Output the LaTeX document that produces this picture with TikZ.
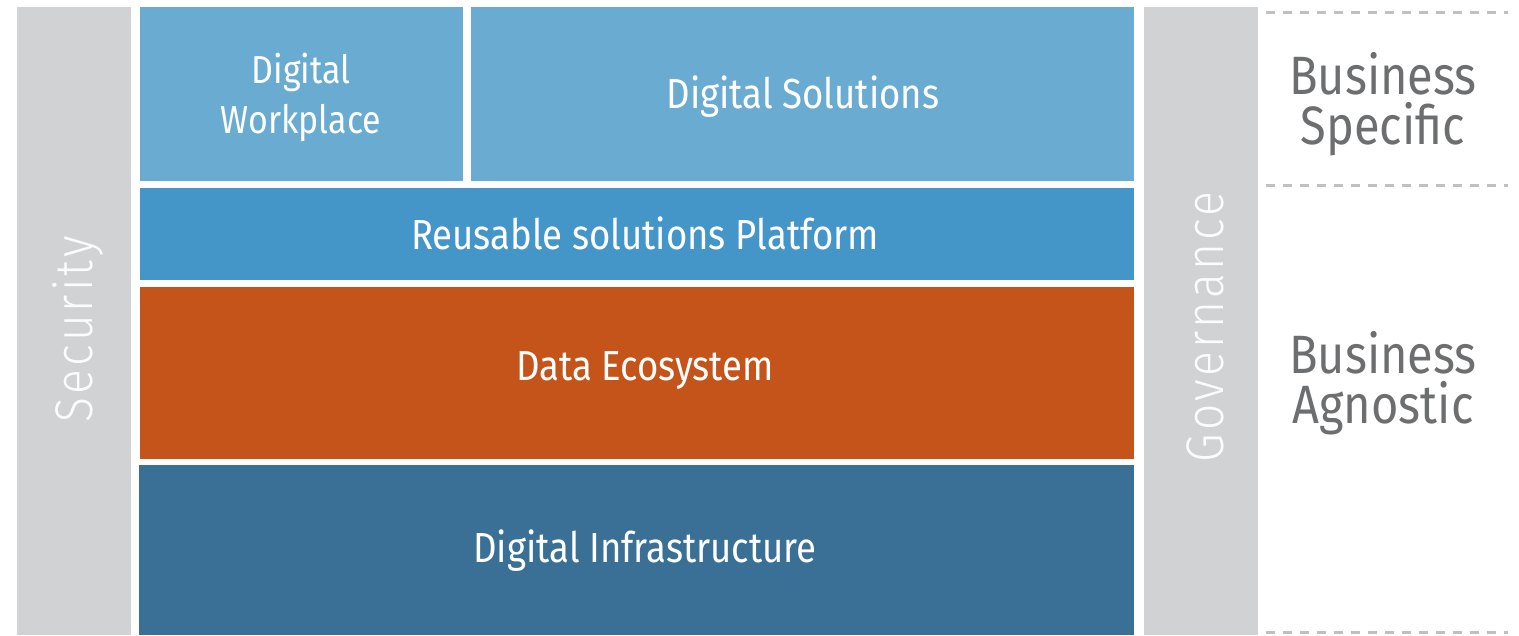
\documentclass[tikz,border=0pt]{standalone}
\usepackage{fontspec}
\setmainfont{Fira Sans}[FakeStretch=0.87]
\newfontfamily\spaced{Fira Sans Light}[LetterSpace=6, FakeStretch=0.87]
\definecolor{lightblue}{HTML}{6AABD2}
\definecolor{midblue}{HTML}{4596C8}
\definecolor{orangec}{HTML}{C4541A}
\definecolor{darkblue}{HTML}{3B7096}
\definecolor{bargray}{HTML}{D1D2D4}
\definecolor{txtgray}{HTML}{6D6E70}
\definecolor{dashgray}{HTML}{BFC0C2}
\begin{document}
\begin{tikzpicture}[x=1pt,y=-1pt,
  layer/.style={anchor=north west, inner sep=0pt, outer sep=0pt},
  ltext/.style={text=white, align=center, inner sep=0pt, font=\fontsize{42}{50}\selectfont},
  side/.style={anchor=north west, inner sep=0pt, outer sep=0pt, fill=bargray},
  sidetext/.style={text=white!94!bargray, rotate=90, inner sep=0pt, font=\spaced\fontsize{53}{60}\selectfont},
  righttext/.style={text=txtgray, align=center, inner sep=0pt, font=\fontsize{54}{50}\selectfont},
  sep/.style={draw=dashgray, line width=3pt, dash pattern=on 9pt off 8pt}]
\useasboundingbox (0,0) rectangle (1519,635);
\fill[white] (0,0) rectangle (1519,635);
% side bars
\node[side, minimum width=114pt, minimum height=628pt] (secbar) at (17,7) {};
\node[sidetext] (sec) at (78,329) {Security};
\node[side, minimum width=114pt, minimum height=628pt] (govbar) at (1144,7) {};
\node[sidetext] (gov) at (1205,327) {Governance};
% layers
\node[layer, fill=lightblue, minimum width=323pt, minimum height=174pt] (dw) at (140,7) {};
\node[ltext, font=\fontsize{39}{50}\selectfont] (dwt) at (301,97) {Digital\\Workplace};
\node[layer, fill=lightblue, minimum width=663pt, minimum height=174pt] (ds) at (471,7) {};
\node[ltext] (dst) at (803,97) {Digital Solutions};
\node[layer, fill=midblue, minimum width=994pt, minimum height=92pt] (rs) at (140,188) {};
\node[ltext] (rst) at (645,233) {Reusable solutions Platform};
\node[layer, fill=orangec, minimum width=994pt, minimum height=172pt] (de) at (140,287) {};
\node[ltext] (det) at (645,370) {Data Ecosystem};
\node[layer, fill=darkblue, minimum width=995pt, minimum height=170pt] (di) at (139,465) {};
\node[ltext] (dit) at (645,551) {Digital Infrastructure};
% dashed separators
\coordinate (d1a) at (1266,12); \coordinate (d1b) at (1508,12);
\coordinate (d2a) at (1266,185); \coordinate (d2b) at (1508,185);
\coordinate (d3a) at (1266,632); \coordinate (d3b) at (1508,632);
\draw[sep] (d1a) -- (d1b);
\draw[sep] (d2a) -- (d2b);
\draw[sep] (d3a) -- (d3b);
\node[righttext] (bs) at (1383,104) {Business\\Specific};
\node[righttext] (ba) at (1383,383) {Business\\Agnostic};
\end{tikzpicture}
\end{document}
